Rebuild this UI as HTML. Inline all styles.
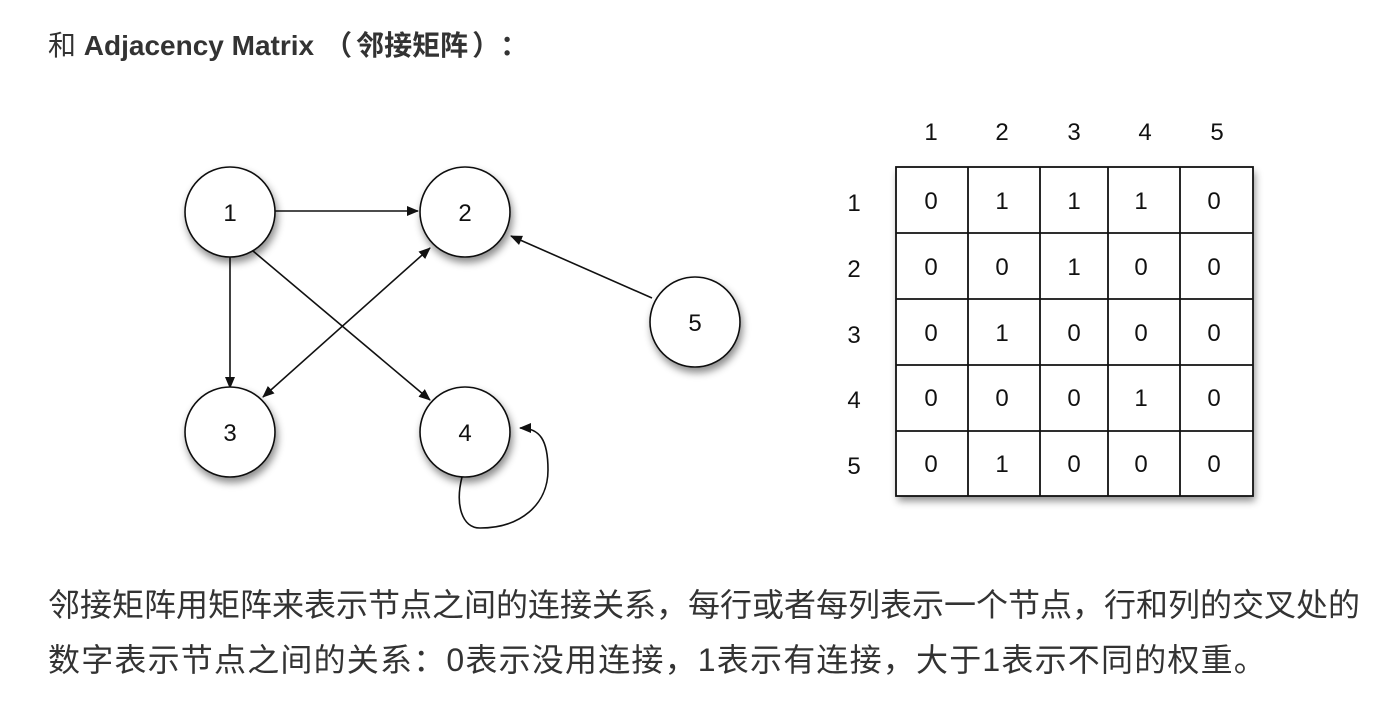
<!DOCTYPE html>
<html><head><meta charset="utf-8"><style>
html,body{margin:0;padding:0;background:#fff;}
body{width:1374px;height:714px;position:relative;overflow:hidden;font-family:"Liberation Sans","Noto Sans CJK SC",sans-serif;color:#333;}
.h{position:absolute;left:48px;top:26px;font-size:28px;line-height:40px;white-space:nowrap;}
.h span{display:inline-block;text-align:center;}
.p{position:absolute;left:48px;font-size:32px;letter-spacing:0px;white-space:nowrap;line-height:40px;}
</style></head><body>
<div class="h">和 <b>Adjacency Matrix</b><b><span style="width:38px;text-align:right">（</span><span style="width:120px">邻接矩阵</span><span style="width:28px;text-align:left">）</span><span style="width:28px">：</span></b></div>
<svg width="1374" height="714" style="position:absolute;left:0;top:0">
<defs>
<filter id="sh" x="-30%" y="-30%" width="160%" height="160%"><feDropShadow dx="2" dy="5" stdDeviation="4" flood-color="#000" flood-opacity="0.45"/></filter>
<marker id="a" markerWidth="12" markerHeight="10" refX="11" refY="5" orient="auto" markerUnits="userSpaceOnUse"><path d="M0,0 L12,5 L0,10 z" fill="#111"/></marker>
<marker id="b" markerWidth="12" markerHeight="10" refX="1" refY="5" orient="auto" markerUnits="userSpaceOnUse"><path d="M12,0 L0,5 L12,10 z" fill="#111"/></marker>
</defs>
<g stroke="#111" stroke-width="1.6" fill="none">
<line x1="275" y1="211" x2="418" y2="211" marker-end="url(#a)"/>
<line x1="230" y1="257" x2="230" y2="388" marker-end="url(#a)"/>
<line x1="253" y1="251" x2="430" y2="400" marker-end="url(#a)"/>
<line x1="263" y1="397" x2="430" y2="248" marker-start="url(#b)" marker-end="url(#a)"/>
<line x1="652" y1="298" x2="511" y2="236" marker-end="url(#a)"/>
<path d="M462,477 C455,505 462,528 480,528 C520,528 548,505 548,470 C548,440 540,428 520,428" marker-end="url(#a)"/>
</g>
<g fill="#fff" stroke="#111" stroke-width="1.6" filter="url(#sh)">
<ellipse cx="230" cy="212" rx="45" ry="45"/>
<ellipse cx="465" cy="212" rx="45" ry="45"/>
<ellipse cx="230" cy="432" rx="45" ry="45"/>
<ellipse cx="465" cy="432" rx="45" ry="45"/>
<ellipse cx="695" cy="322" rx="45" ry="45"/>
</g>
<g font-family="Liberation Sans" font-size="24" fill="#111" text-anchor="middle">
<text x="230" y="221">1</text><text x="465" y="221">2</text><text x="230" y="441">3</text><text x="465" y="441">4</text><text x="695" y="331">5</text>
</g>
<rect x="896" y="167" width="357" height="329" fill="#fff" filter="url(#sh)"/>
<g stroke="#111" stroke-width="1.8" fill="none">
<rect x="896" y="167" width="357" height="329"/>
<line x1="968" y1="167" x2="968" y2="496"/><line x1="1040" y1="167" x2="1040" y2="496"/><line x1="1108" y1="167" x2="1108" y2="496"/><line x1="1180" y1="167" x2="1180" y2="496"/>
<line x1="896" y1="233" x2="1253" y2="233"/><line x1="896" y1="299" x2="1253" y2="299"/><line x1="896" y1="365" x2="1253" y2="365"/><line x1="896" y1="431" x2="1253" y2="431"/>
</g>
<g font-family="Liberation Sans" font-size="24" fill="#111" text-anchor="middle">
<text x="931" y="140">1</text><text x="1002" y="140">2</text><text x="1074" y="140">3</text><text x="1145" y="140">4</text><text x="1217" y="140">5</text>
<text x="854" y="211">1</text><text x="854" y="277">2</text><text x="854" y="343">3</text><text x="854" y="408">4</text><text x="854" y="474">5</text>
<text x="931" y="209">0</text><text x="1002" y="209">1</text><text x="1074" y="209">1</text><text x="1141" y="209">1</text><text x="1214" y="209">0</text>
<text x="931" y="275">0</text><text x="1002" y="275">0</text><text x="1074" y="275">1</text><text x="1141" y="275">0</text><text x="1214" y="275">0</text>
<text x="931" y="341">0</text><text x="1002" y="341">1</text><text x="1074" y="341">0</text><text x="1141" y="341">0</text><text x="1214" y="341">0</text>
<text x="931" y="406">0</text><text x="1002" y="406">0</text><text x="1074" y="406">0</text><text x="1141" y="406">1</text><text x="1214" y="406">0</text>
<text x="931" y="472">0</text><text x="1002" y="472">1</text><text x="1074" y="472">0</text><text x="1141" y="472">0</text><text x="1214" y="472">0</text>
</g>
</svg>
<div class="p" style="top:585px">邻接矩阵用矩阵来表示节点之间的连接关系，每行或者每列表示一个节点，行和列的交叉处的</div>
<div class="p" style="top:640px;letter-spacing:1.2px">数字表示节点之间的关系：0表示没用连接，1表示有连接，大于1表示不同的权重。</div>
</body></html>
